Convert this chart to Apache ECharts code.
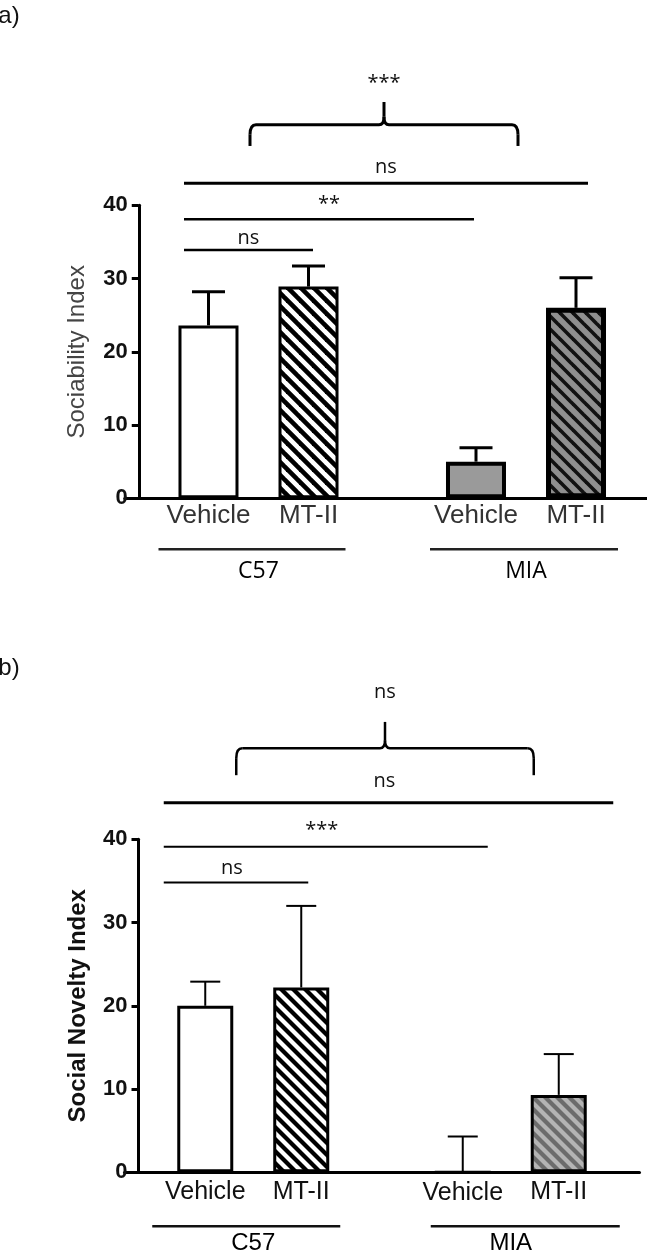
<!DOCTYPE html>
<html><head><meta charset="utf-8">
<script src="https://cdn.jsdelivr.net/npm/echarts@6/dist/echarts.min.js"></script>
<style>html,body{margin:0;padding:0;background:#fff}#c{width:647px;height:1254px}</style>
</head><body><div id="c"></div>
<script>
// ---------- data ----------
const groups = ['C57', 'MIA'];
const treatments = ['Vehicle', 'MT-II'];
const yTickMax = 40, yTickStep = 10;

// panel a : Sociability Index  (index 0 = C57, 1 = MIA)
const sociabilityVehicle = [23.6, 5.0];
const sociabilityVehicleErr = [4.6, 1.9];
const sociabilityMT = [28.9, 26.0];
const sociabilityMTErr = [2.8, 4.1];

// panel b : Social Novelty Index
const noveltyVehicle = [20.0, 0.0];
const noveltyVehicleErr = [2.9, 4.3];
const noveltyMT = [22.2, 9.3];
const noveltyMTErr = [9.8, 4.9];

// significance labels (bar index: 0 C57-Vehicle, 1 C57-MT-II, 2 MIA-Vehicle, 3 MIA-MT-II)
const sigLabelsA = ['ns', '**', 'ns'];
const sigLabelsB = ['ns', '***', 'ns'];
const braceLabelA = '***';
const braceLabelB = 'ns';

// ---------- helpers ----------
function stripes(bg, fg, P, lw) {
  const c = document.createElement('canvas'); c.width = P; c.height = P;
  const g = c.getContext('2d');
  if (bg) { g.fillStyle = bg; g.fillRect(0, 0, P, P); }
  g.strokeStyle = fg; g.lineWidth = lw;
  for (let k = -1; k <= 1; k++) { g.beginPath(); g.moveTo(k * P - P, -P); g.lineTo(k * P + 2 * P, 2 * P); g.stroke(); }
  return c;
}
const patA2 = { image: stripes('#ffffff', '#000000', 13, 4.6), repeat: 'repeat' };
const patA4 = { image: stripes('#8f8f8f', '#111111', 13, 3.6), repeat: 'repeat' };
const patB2 = { image: stripes('#ffffff', '#000000', 12, 4.2), repeat: 'repeat' };
const patB4 = { image: stripes('#b4b4b4', '#6c6c6c', 12, 4.2), repeat: 'repeat' };

const OFF_A = 50, OFF_B = 48;

function errSeries(idx, vals, errs, offset, lw, cap) {
  return {
    type: 'custom', xAxisIndex: idx, yAxisIndex: idx, z: 1, silent: true,
    data: vals.map((v, i) => [i, v, errs[i]]),
    renderItem: function (params, api) {
      const b = api.coord([api.value(0), api.value(1)]);
      const t = api.coord([api.value(0), api.value(1) + api.value(2)]);
      const x = b[0] + offset;
      return { type: 'group', children: [
        { type: 'line', shape: { x1: x, y1: b[1], x2: x, y2: t[1] }, style: { stroke: '#000', lineWidth: lw } },
        { type: 'line', shape: { x1: x - cap / 2, y1: t[1], x2: x + cap / 2, y2: t[1] }, style: { stroke: '#000', lineWidth: lw } }
      ] };
    }
  };
}

function xAxisCfg(gi, margin, font, size, weight) {
  return {
    type: 'category', gridIndex: gi, data: groups,
    axisLine: { lineStyle: { color: '#000', width: 3 } },
    axisTick: { alignWithLabel: true, length: 8, lineStyle: { color: '#000', width: 2 } },
    axisLabel: { margin: margin, fontSize: size, fontFamily: font, fontWeight: weight, color: '#000' }
  };
}
function yAxisCfg(gi, name, nameWeight, nameColor, nameGap) {
  return {
    type: 'value', gridIndex: gi, min: 0, max: yTickMax, interval: yTickStep, offset: -14,
    name: name, nameLocation: 'middle', nameGap: nameGap,
    nameTextStyle: { fontSize: 24, fontFamily: 'Liberation Sans', fontWeight: nameWeight, color: nameColor },
    axisLine: { show: true, lineStyle: { color: '#000', width: 3 } },
    axisTick: { show: true, length: 7, lineStyle: { color: '#000', width: 3 } },
    axisLabel: { margin: 11, fontSize: 22, fontFamily: 'Liberation Sans', fontWeight: 'bold', color: '#111' },
    splitLine: { show: false }
  };
}
function barLabel(color, size, dist) {
  return { show: true, position: 'bottom', distance: dist, formatter: '{a}', fontSize: size,
           fontFamily: 'Liberation Sans', color: color };
}

const chart = echarts.init(document.getElementById('c'));
chart.setOption({
  animation: false,
  backgroundColor: '#fff',
  grid: [
    { left: 124.75, width: 535, top: 205.3, height: 293, outerBoundsMode: 'none', containLabel: false },
    { left: 124.5, width: 515, top: 839.3, height: 333, outerBoundsMode: 'none', containLabel: false }
  ],
  xAxis: [ xAxisCfg(0, 62, 'Open Sans', 23, 'normal'), xAxisCfg(1, 59, 'Liberation Sans', 24, 'normal') ],
  yAxis: [ yAxisCfg(0, 'Sociability Index', 'normal', '#444', 49), yAxisCfg(1, 'Social Novelty Index', 'bold', '#111', 48) ],
  series: [
    { type: 'bar', name: treatments[0], xAxisIndex: 0, yAxisIndex: 0, barWidth: 60, barGap: '66.7%', z: 2,
      data: sociabilityVehicle.map((v, i) => ({ value: v, itemStyle: i === 0 ? { color: '#fff', borderWidth: 3 } : { color: '#9a9a9a', borderWidth: 4 } })),
      itemStyle: { borderColor: '#000' }, label: barLabel('#333', 26, 5) },
    { type: 'bar', name: treatments[1], xAxisIndex: 0, yAxisIndex: 0, barWidth: 60, barGap: '66.7%', z: 2,
      data: sociabilityMT.map((v, i) => ({ value: v, itemStyle: i === 0 ? { color: patA2, borderWidth: 3 } : { color: patA4, borderWidth: 5 } })),
      itemStyle: { borderColor: '#000' }, label: barLabel('#333', 26, 5) },
    errSeries(0, sociabilityVehicle, sociabilityVehicleErr, -OFF_A, 3, 33),
    errSeries(0, sociabilityMT, sociabilityMTErr, OFF_A, 3, 33),
    { type: 'bar', name: treatments[0], xAxisIndex: 1, yAxisIndex: 1, barWidth: 56, barGap: '71.4%', z: 2,
      data: noveltyVehicle.map((v) => ({ value: v, itemStyle: { color: '#fff', borderWidth: 3 } })),
      itemStyle: { borderColor: '#000' }, label: barLabel('#111', 25, 7) },
    { type: 'bar', name: treatments[1], xAxisIndex: 1, yAxisIndex: 1, barWidth: 56, barGap: '71.4%', z: 2,
      data: noveltyMT.map((v, i) => ({ value: v, itemStyle: i === 0 ? { color: patB2, borderWidth: 3 } : { color: patB4, borderWidth: 3 } })),
      itemStyle: { borderColor: '#000' }, label: barLabel('#111', 25, 7) },
    errSeries(1, noveltyVehicle, noveltyVehicleErr, -OFF_B, 2, 30),
    errSeries(1, noveltyMT, noveltyMTErr, OFF_B, 2, 30)
  ]
});

// ---------- annotations anchored on the axes ----------
function catX(gi, ci) { return chart.convertToPixel({ gridIndex: gi }, [groups[ci], 0])[0]; }
function valY(gi, v) { return chart.convertToPixel({ gridIndex: gi }, [groups[0], v])[1]; }
function barX(gi, bi, off) { return catX(gi, bi >> 1) + ((bi & 1) ? off : -off); }

const els = [];
function txt(x, y, s, size, font, weight) {
  els.push({ type: 'text', x: x, y: y, silent: true,
    style: { text: s, fontSize: size, fontFamily: font || 'Open Sans', fontWeight: weight || 'normal', fill: '#111', align: 'center', verticalAlign: 'middle' } });
}
function ln(x1, y1, x2, y2, w, color) {
  els.push({ type: 'line', silent: true, shape: { x1: x1, y1: y1, x2: x2, y2: y2 }, style: { stroke: color || '#000', lineWidth: w } });
}
function curve(x1, y1, cx, cy, x2, y2, w) {
  els.push({ type: 'bezierCurve', silent: true, shape: { x1: x1, y1: y1, cpx1: cx, cpy1: cy, x2: x2, y2: y2 }, style: { stroke: '#000', lineWidth: w, fill: null } });
}
function brace(xL, xM, xR, yTip, yH, yEnd, w) {
  ln(xL, yEnd, xL, yH + 10, w);
  curve(xL, yH + 10, xL, yH, xL + 6, yH, w);
  ln(xL + 6, yH, xM - 5, yH, w);
  curve(xM - 5, yH, xM, yH, xM, yH - 8, w);
  curve(xM + 5, yH, xM, yH, xM, yH - 8, w);
  ln(xM, yH - 8, xM, yTip, w);
  ln(xM + 5, yH, xR - 6, yH, w);
  curve(xR - 6, yH, xR, yH, xR, yH + 10, w);
  ln(xR, yH + 10, xR, yEnd, w);
}

// panel a
{
  const gi = 0, o = OFF_A;
  const x0 = barX(gi, 0, o) - 24.5;
  const spans = [[x0, barX(gi, 3, o) + 12, 43.0, 3, 16], [x0, barX(gi, 2, o) - 2, 38.1, 2.5, 15], [x0, barX(gi, 1, o) + 4.5, 33.9, 2.5, 12]];
  spans.forEach((s, i) => { const y = valY(gi, s[2]); ln(s[0], y, s[1], y, s[3]); txt((s[0] + s[1]) / 2, y - s[4], sigLabelsA[i], 20); });
  const xL = catX(gi, 0) - 8.5, xR = catX(gi, 1) - 8, xm = (xL + xR) / 2;
  brace(xL, xm, xR, valY(gi, 54.1), valY(gi, 51.0), valY(gi, 48.1), 3);
  txt(xm, valY(gi, 57.1) + 3, braceLabelA, 20);
  const yl = valY(gi, 0) + 51;
  ln(catX(gi, 0) - 100, yl, catX(gi, 0) + 87, yl, 2.5, '#222');
  ln(catX(gi, 1) - 96, yl, catX(gi, 1) + 92, yl, 2.5, '#222');
  txt(9, 16, 'a)', 24, 'Liberation Sans');
}
// panel b
{
  const gi = 1, o = OFF_B;
  const x0 = barX(gi, 0, o) - 41.5;
  const spans = [[x0, barX(gi, 3, o) + 54.5, 44.4, 3, 21], [x0, barX(gi, 2, o) + 25, 39.1, 2, 16], [x0, barX(gi, 1, o) + 7, 34.8, 2, 14]];
  spans.forEach((s, i) => { const y = valY(gi, s[2]); ln(s[0], y, s[1], y, s[3]); txt((s[0] + s[1]) / 2 - 4, y - s[4], sigLabelsB[i], 20); });
  const xL = catX(gi, 0) - 17, xR = catX(gi, 1) + 23, xm = (xL + xR) / 2;
  brace(xL, xm, xR, valY(gi, 54.1), valY(gi, 50.95), valY(gi, 47.7), 2.5);
  txt(xm, valY(gi, 57.7), braceLabelB, 20);
  const yl = valY(gi, 0) + 54;
  ln(catX(gi, 0) - 101, yl, catX(gi, 0) + 87, yl, 2.5, '#111');
  ln(catX(gi, 1) - 80, yl, catX(gi, 1) + 109, yl, 2.5, '#111');
  txt(9, 668, 'b)', 24, 'Liberation Sans');
}
chart.setOption({ graphic: { elements: els } });
</script></body></html>
